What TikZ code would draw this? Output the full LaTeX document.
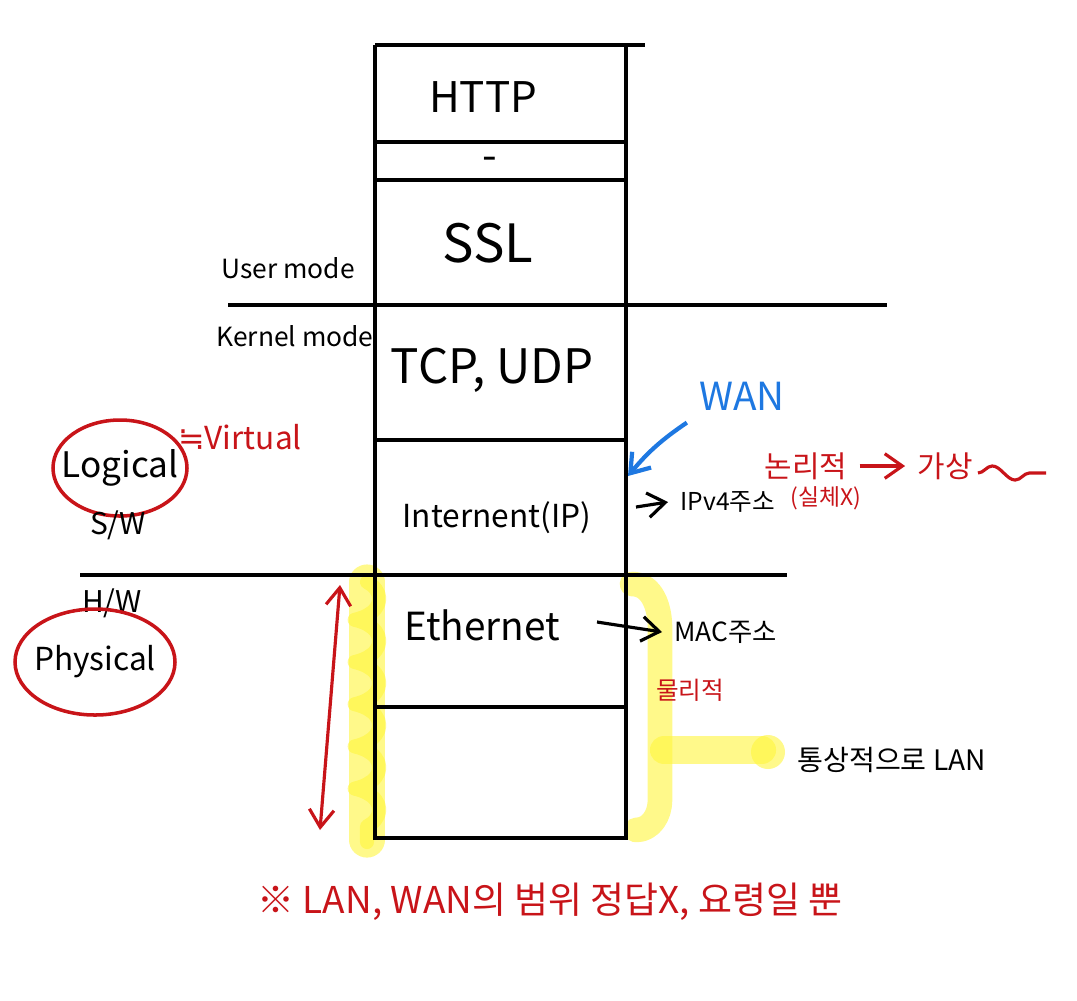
\documentclass[tikz,border=0pt]{standalone}
\usepackage{fontspec}
\setmainfont{Noto Sans CJK KR}
\newfontfamily\symfont{DejaVu Sans}
\usetikzlibrary{arrows.meta, decorations.pathmorphing}

\definecolor{penred}{RGB}{200,20,25}
\definecolor{penblue}{RGB}{30,120,225}
\definecolor{marker}{RGB}{255,245,60}

\tikzset{
	stack/.style={line width=1.3pt},
	layer/.style={font=\fontsize{12}{12}\selectfont},
	note/.style={font=\fontsize{7.5}{8}\selectfont},
	rednote/.style={font=\fontsize{9}{9}\selectfont, text=penred},
	ring/.style={draw=penred, line width=1pt},
	pen/.style={line width=0.9pt, -{Straight Barb[length=5pt,width=7pt]}},
	hilite/.style={draw=marker, opacity=0.6, line cap=round, line join=round}
}

\begin{document}
\begin{tikzpicture}[x=0.01cm, y=-0.01cm]%[minimum width=40]
	\useasboundingbox (0,0) rectangle (1077,1000);
	% marker strokes
	\draw[hilite, line width=10pt] (367,582) -- (367,840);
	\draw[hilite, line width=4pt, decorate, decoration={coil, aspect=0.5, amplitude=3.5, segment length=12}] (367,582) -- (367,842);
	\draw[hilite, line width=7pt] (632,584) to[out=0,in=90] (660,628) -- (660,800) to[out=-90,in=0] (636,830);
	\draw[hilite, line width=8pt] (664,750) -- (762,750);
	\fill[marker, opacity=0.6] (768,752) circle (17);

	\draw[stack] (375,45) -- (645,45);
	\draw[stack] (375,45) -- (375,838) -- (626,838) -- (626,45);
	\draw[stack] (375,142) -- (626,142);
	\draw[stack] (375,180) -- (626,180);
	\draw[stack] (228,305) -- (887,305);
	\draw[stack] (375,440) -- (626,440);
	\draw[stack] (80,575) -- (787,575);
	\draw[stack] (375,707) -- (626,707);

	\node[layer] (http) at (483,97) {HTTP};
	\node[layer] (blank) at (490,164) {-};
	\node[layer, font=\fontsize{15}{15}\selectfont] (ssl) at (488,243) {SSL};
	\node[layer, font=\fontsize{13.5}{14}\selectfont] (tcp) at (492,370) {TCP, UDP};
	\node[layer, font=\fontsize{9}{9}\selectfont] (ip) at (497,518) {Internent(IP)};
	\node[layer, font=\fontsize{11}{11}\selectfont] (ether) at (482,625) {Ethernet};

	\node[note] (user) at (288,268) {User mode};
	\node[note] (kernel) at (295,336) {Kernel mode};
	\node[note, font=\fontsize{10}{10}\selectfont] (logical) at (120,468) {Logical};
	\draw[ring] (logical) ellipse (67 and 48);
	\node[rednote] (virtual) at (240,437) {{\symfont ≒}Virtual};
	\node[note, font=\fontsize{8.5}{9}\selectfont] (sw) at (118,525) {S/W};
	\node[note, font=\fontsize{8.5}{9}\selectfont] (hw) at (112,603) {H/W};
	\node[note, font=\fontsize{9}{10}\selectfont] (physical) at (95,662) {Physical};
	\draw[ring] (physical) ellipse (80 and 53);

	\coordinate (hwtop) at (340,585);
	\coordinate (hwbot) at (320,830);
	\draw[pen, draw=penred, {Straight Barb[length=5pt,width=7pt]}-{Straight Barb[length=5pt,width=7pt]}] (hwtop) -- (hwbot);

	\node[font=\fontsize{11}{11}\selectfont, text=penblue] (wan) at (742,396) {WAN};
	\coordinate (iphit) at (628,476);
	\draw[pen, draw=penblue, line width=1.2pt] (wan.south west) to[bend right=8] (iphit);

	\coordinate (ipside) at (636,507);
	\node[note, font=\fontsize{7}{7}\selectfont, anchor=west] (ipv4) at (668,502) {IPv4주소};
	\draw[pen] (ipside) -- (ipv4.west);

	\node[rednote, font=\fontsize{8.5}{9}\selectfont] (logi) at (806,466) {논리적};
	\node[rednote, font=\fontsize{6.5}{7}\selectfont] (real) at (826,498) {(실체X)};
	\node[rednote, font=\fontsize{8.5}{9}\selectfont] (gasang) at (945,466) {가상};
	\draw[pen, draw=penred] (logi.east) -- (gasang.west);
	\draw[draw=penred, line width=0.9pt, decorate, decoration={snake, amplitude=2, segment length=13}] (978,473) -- (1046,473);

	\coordinate (etherside) at (597,622);
	\node[note, font=\fontsize{7.5}{8}\selectfont, anchor=west] (mac) at (662,632) {MAC주소};
	\draw[pen] (etherside) -- (mac.west);

	\node[rednote, font=\fontsize{7}{7}\selectfont] (phys) at (690,690) {물리적};
	\node[note, font=\fontsize{8}{8}\selectfont, anchor=west] (lan) at (785,760) {통상적으로 LAN};

	\node[rednote, font=\fontsize{10.5}{11}\selectfont] (remark) at (550,902) {※ LAN, WAN의 범위 정답X, 요령일 뿐};
\end{tikzpicture}
\end{document}
